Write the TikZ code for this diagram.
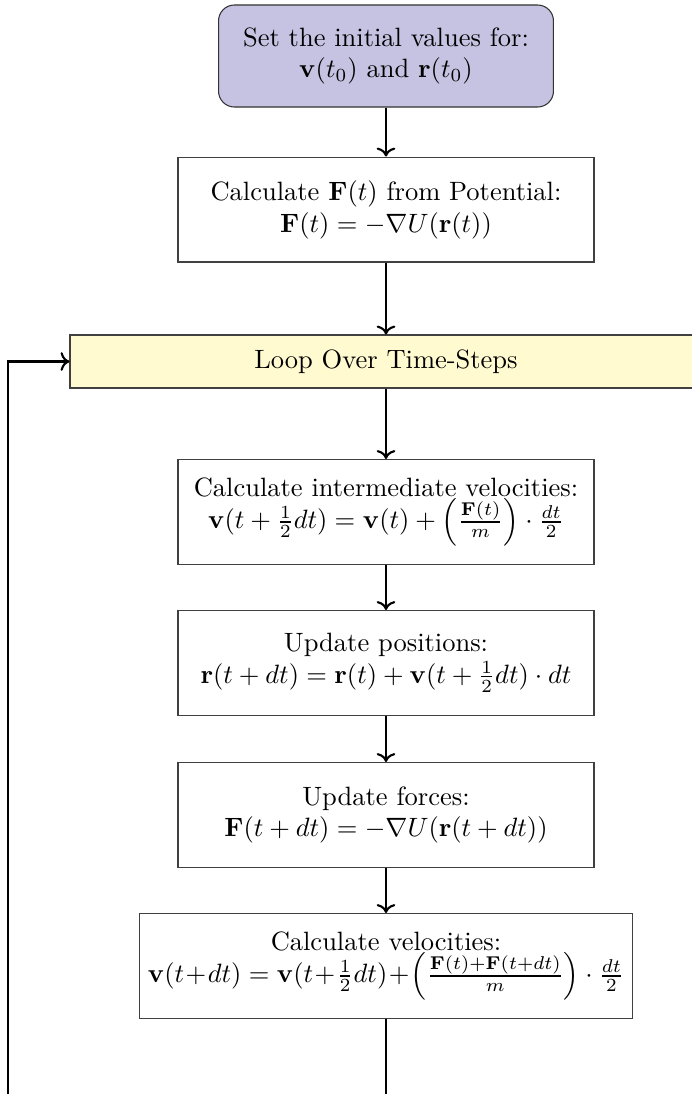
\documentclass[tikz,border=0pt]{standalone}
\usepackage{amsmath, amssymb}
\usepackage{tikz}
\usetikzlibrary{positioning,arrows.meta}
\definecolor{initfill}{RGB}{197,195,225}
\definecolor{loopfill}{RGB}{255,250,208}
\tikzset{
  flowarrow/.style={->, thick},
  initbox/.style={draw=black!80, rounded corners=6pt, fill=initfill, minimum width=126.4pt, minimum height=38.5pt, align=center},
  stepbox/.style={draw=black!75, fill=white, minimum width=157pt, minimum height=39.6pt, align=center},
  loopbox/.style={draw=black!75, fill=loopfill, minimum width=238.5pt, minimum height=20pt, align=center}
}

\begin{document}
\begin{tikzpicture}[x=0.3774pt, y=-0.3774pt]
      \useasboundingbox (0,0) rectangle (692,1094);
      \clip (0,0) rectangle (692,1094);
      \node[initbox] (init) at (386,56) {Set the initial values for:\\ $\mathbf{v}(t_0)$ and $\mathbf{r}(t_0)$};
      \node[stepbox] (force0) at (386,209.5) {Calculate $\mathbf{F}(t)$ from Potential:\\ $\mathbf{F}(t) = -\nabla U(\mathbf{r}(t))$};
      \node[loopbox] (loop) at (386,361.5) {Loop Over Time-Steps};
      \node[stepbox] (halfv) at (386,512) {Calculate intermediate velocities:\\ $\mathbf{v}(t+\frac{1}{2}dt) = \mathbf{v}(t) + \left(\frac{\mathbf{F}(t)}{m}\right)\cdot\frac{dt}{2}$};
      \node[stepbox] (pos) at (386,663) {Update positions:\\ $\mathbf{r}(t+dt) = \mathbf{r}(t) + \mathbf{v}(t+\frac{1}{2}dt)\cdot dt$};
      \node[stepbox] (force) at (386,815) {Update forces:\\ $\mathbf{F}(t+dt) = -\nabla U(\mathbf{r}(t+dt))$};
      \node[stepbox] (fullv) at (386,966) {Calculate velocities:\\ $\mathbf{v}(t\!+\!dt) = \mathbf{v}(t\!+\!\frac{1}{2}dt)\!+\!\left(\frac{\mathbf{F}(t)+\mathbf{F}(t+dt)}{m}\right)\cdot\frac{dt}{2}$};
      \coordinate (down) at (386,1130);
      \coordinate (corner) at (8,1130);
      \draw[flowarrow] (init) -- (force0);
      \draw[flowarrow] (force0) -- (loop);
      \draw[flowarrow] (loop) -- (halfv);
      \draw[flowarrow] (halfv) -- (pos);
      \draw[flowarrow] (pos) -- (force);
      \draw[flowarrow] (force) -- (fullv);
      \draw[flowarrow] (fullv.south) -- (down) -- (corner) |- (loop.west);
    \end{tikzpicture}
\end{document}
